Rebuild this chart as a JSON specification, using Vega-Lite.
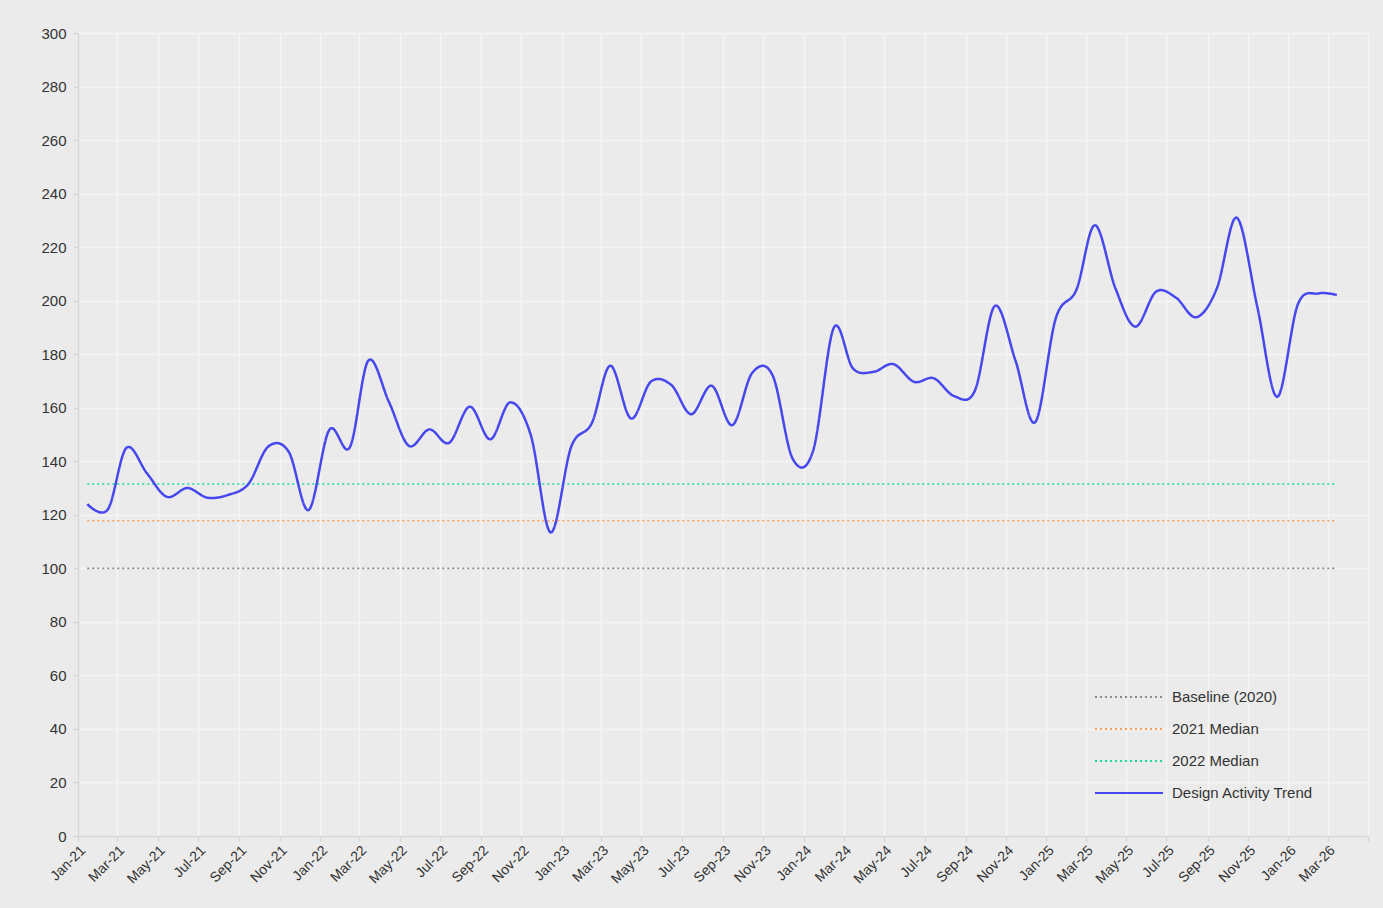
{
  "$schema": "https://vega.github.io/schema/vega-lite/v6.json",
  "width": 1290,
  "height": 803,
  "autosize": {"type": "none"},
  "padding": {"left": 78, "top": 33, "right": 15, "bottom": 72},
  "background": "#ebebeb",
  "config": {
    "view": {"stroke": null},
    "font": "Liberation Sans",
    "axis": {
      "labelFont": "Liberation Sans",
      "labelFontSize": 15,
      "labelColor": "#333333",
      "domainColor": "#d6d6d6",
      "domainWidth": 1.5,
      "tickColor": "#d6d6d6",
      "tickWidth": 1.5,
      "tickSize": 5,
      "gridColor": "#f5f5f5",
      "gridWidth": 1.5,
      "title": null
    }
  },
  "datasets": {
    "trend": [
      {"series": "Design Activity Trend", "date": "2021-01-15", "value": 124},
      {"series": "Design Activity Trend", "date": "2021-02-15", "value": 122},
      {"series": "Design Activity Trend", "date": "2021-03-15", "value": 145},
      {"series": "Design Activity Trend", "date": "2021-04-15", "value": 135.5},
      {"series": "Design Activity Trend", "date": "2021-05-15", "value": 126.7},
      {"series": "Design Activity Trend", "date": "2021-06-15", "value": 130},
      {"series": "Design Activity Trend", "date": "2021-07-15", "value": 126.4},
      {"series": "Design Activity Trend", "date": "2021-08-15", "value": 127.4},
      {"series": "Design Activity Trend", "date": "2021-09-15", "value": 131.5},
      {"series": "Design Activity Trend", "date": "2021-10-15", "value": 145.5},
      {"series": "Design Activity Trend", "date": "2021-11-15", "value": 143.5},
      {"series": "Design Activity Trend", "date": "2021-12-15", "value": 121.8},
      {"series": "Design Activity Trend", "date": "2022-01-15", "value": 151.7},
      {"series": "Design Activity Trend", "date": "2022-02-15", "value": 145.2},
      {"series": "Design Activity Trend", "date": "2022-03-15", "value": 177.6},
      {"series": "Design Activity Trend", "date": "2022-04-15", "value": 162.2},
      {"series": "Design Activity Trend", "date": "2022-05-15", "value": 145.8},
      {"series": "Design Activity Trend", "date": "2022-06-15", "value": 151.9},
      {"series": "Design Activity Trend", "date": "2022-07-15", "value": 146.9},
      {"series": "Design Activity Trend", "date": "2022-08-15", "value": 160.4},
      {"series": "Design Activity Trend", "date": "2022-09-15", "value": 148.2},
      {"series": "Design Activity Trend", "date": "2022-10-15", "value": 162},
      {"series": "Design Activity Trend", "date": "2022-11-15", "value": 149.8},
      {"series": "Design Activity Trend", "date": "2022-12-15", "value": 113.4},
      {"series": "Design Activity Trend", "date": "2023-01-15", "value": 145.4},
      {"series": "Design Activity Trend", "date": "2023-02-15", "value": 154.2},
      {"series": "Design Activity Trend", "date": "2023-03-15", "value": 175.7},
      {"series": "Design Activity Trend", "date": "2023-04-15", "value": 156},
      {"series": "Design Activity Trend", "date": "2023-05-15", "value": 169.7},
      {"series": "Design Activity Trend", "date": "2023-06-15", "value": 168.5},
      {"series": "Design Activity Trend", "date": "2023-07-15", "value": 157.6},
      {"series": "Design Activity Trend", "date": "2023-08-15", "value": 168.2},
      {"series": "Design Activity Trend", "date": "2023-09-15", "value": 153.5},
      {"series": "Design Activity Trend", "date": "2023-10-15", "value": 173},
      {"series": "Design Activity Trend", "date": "2023-11-15", "value": 172},
      {"series": "Design Activity Trend", "date": "2023-12-15", "value": 141},
      {"series": "Design Activity Trend", "date": "2024-01-15", "value": 144},
      {"series": "Design Activity Trend", "date": "2024-02-15", "value": 189.8},
      {"series": "Design Activity Trend", "date": "2024-03-15", "value": 174.7},
      {"series": "Design Activity Trend", "date": "2024-04-15", "value": 173.4},
      {"series": "Design Activity Trend", "date": "2024-05-15", "value": 176.3},
      {"series": "Design Activity Trend", "date": "2024-06-15", "value": 169.7},
      {"series": "Design Activity Trend", "date": "2024-07-15", "value": 171},
      {"series": "Design Activity Trend", "date": "2024-08-15", "value": 164.3},
      {"series": "Design Activity Trend", "date": "2024-09-15", "value": 166.4},
      {"series": "Design Activity Trend", "date": "2024-10-15", "value": 198},
      {"series": "Design Activity Trend", "date": "2024-11-15", "value": 177.8},
      {"series": "Design Activity Trend", "date": "2024-12-15", "value": 154.6},
      {"series": "Design Activity Trend", "date": "2025-01-15", "value": 193.4},
      {"series": "Design Activity Trend", "date": "2025-02-15", "value": 204},
      {"series": "Design Activity Trend", "date": "2025-03-15", "value": 228.2},
      {"series": "Design Activity Trend", "date": "2025-04-15", "value": 204.6},
      {"series": "Design Activity Trend", "date": "2025-05-15", "value": 190.3},
      {"series": "Design Activity Trend", "date": "2025-06-15", "value": 203.3},
      {"series": "Design Activity Trend", "date": "2025-07-15", "value": 201.2},
      {"series": "Design Activity Trend", "date": "2025-08-15", "value": 193.8},
      {"series": "Design Activity Trend", "date": "2025-09-15", "value": 204.6},
      {"series": "Design Activity Trend", "date": "2025-10-15", "value": 231},
      {"series": "Design Activity Trend", "date": "2025-11-15", "value": 197.7},
      {"series": "Design Activity Trend", "date": "2025-12-15", "value": 164.1},
      {"series": "Design Activity Trend", "date": "2026-01-15", "value": 198.5},
      {"series": "Design Activity Trend", "date": "2026-02-15", "value": 202.7},
      {"series": "Design Activity Trend", "date": "2026-03-15", "value": 202.1}
    ],
    "refs": [
      {"series": "Baseline (2020)", "date": "2021-01-15", "value": 100},
      {"series": "Baseline (2020)", "date": "2026-03-15", "value": 100},
      {"series": "2021 Median", "date": "2021-01-15", "value": 117.8},
      {"series": "2021 Median", "date": "2026-03-15", "value": 117.8},
      {"series": "2022 Median", "date": "2021-01-15", "value": 131.5},
      {"series": "2022 Median", "date": "2026-03-15", "value": 131.5}
    ]
  },
  "encoding": {
    "x": {
      "field": "date",
      "type": "temporal",
      "scale": {
        "type": "utc",
        "domain": ["2021-01-01", "2026-05-01"]
      },
      "axis": {
        "tickCount": {"interval": "month", "step": 2},
        "labelAngle": -45,
        "labelOverlap": false,
        "grid": true,
        "labelExpr": "utcyear(datum.value) == 2026 && utcmonth(datum.value) == 4 ? '' : utcFormat(datum.value, '%b-%y')",
        "labelFontSize": 14
      }
    },
    "y": {
      "field": "value",
      "type": "quantitative",
      "scale": {"domain": [0, 300], "nice": false, "zero": true},
      "axis": {"tickCount": 15, "labelPadding": 7, "grid": true}
    },
    "color": {
      "field": "series",
      "type": "nominal",
      "scale": {
        "domain": ["Baseline (2020)", "2021 Median", "2022 Median", "Design Activity Trend"],
        "range": ["#8a8a8a", "#f7a25c", "#19d9a0", "#4747ee"]
      },
      "legend": {
        "title": null,
        "orient": "none",
        "legendX": 1016,
        "legendY": 656,
        "symbolType": "stroke",
        "symbolSize": 4624,
        "symbolStrokeWidth": 2,
        "clipHeight": 16,
        "rowPadding": 16,
        "labelOffset": 8,
        "labelFont": "Liberation Sans",
        "labelFontSize": 15,
        "labelColor": "#333333",
        "padding": 0,
        "labelLimit": 400
      }
    },
    "strokeDash": {
      "field": "series",
      "type": "nominal",
      "scale": {
        "domain": ["Baseline (2020)", "2021 Median", "2022 Median", "Design Activity Trend"],
        "range": [[2, 3], [2, 3], [2, 3], [1, 0]]
      },
      "legend": {
        "title": null,
        "orient": "none",
        "legendX": 1016,
        "legendY": 656,
        "symbolType": "stroke",
        "symbolSize": 4624,
        "symbolStrokeWidth": 2,
        "clipHeight": 16,
        "rowPadding": 16,
        "labelOffset": 8,
        "labelFont": "Liberation Sans",
        "labelFontSize": 15,
        "labelColor": "#333333",
        "padding": 0,
        "labelLimit": 400
      }
    }
  },
  "layer": [
    {
      "data": {"name": "refs"},
      "mark": {"type": "line", "strokeWidth": 1.6}
    },
    {
      "data": {"name": "trend"},
      "mark": {"type": "line", "strokeWidth": 2.5, "interpolate": "cardinal"}
    }
  ]
}
